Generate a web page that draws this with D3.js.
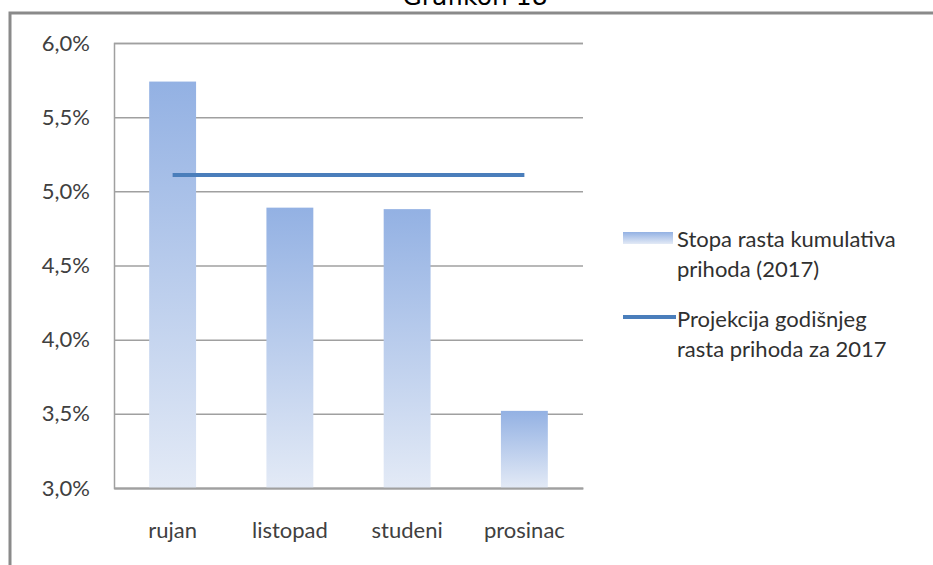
<!DOCTYPE html>
<html><head><meta charset="utf-8">
<script src="https://cdn.jsdelivr.net/npm/d3@7"></script>
<style>body{margin:0;background:#fff}svg{display:block}</style>
</head><body>
<svg id="c" width="933" height="565"></svg>
<script>
const categories = ["rujan","listopad","studeni","prosinac"];
const barValues = [5.74, 4.89, 4.88, 3.52];
const lineValue = 5.11;
const yTicks = [3.0,3.5,4.0,4.5,5.0,5.5,6.0];
const legendBar = ["Stopa rasta kumulativa","prihoda (2017)"];
const legendLine = ["Projekcija godišnjeg","rasta prihoda za 2017"];
const title = "Grafikon 18";

const svg = d3.select("#c");
const m = {left:114, right:583, top:43, bottom:488};
const x = d3.scaleBand().domain(categories).range([m.left, m.right]).paddingInner(0.6).paddingOuter(0.3);
const xc = d3.scaleBand().domain(categories).range([m.left, m.right]);
const y = d3.scaleLinear().domain([3.0, 6.0]).range([m.bottom, m.top]);

const defs = svg.append("defs");
const g = defs.append("linearGradient").attr("id","bg").attr("x1",0).attr("y1",0).attr("x2",0).attr("y2",1);
g.append("stop").attr("offset","0%").attr("stop-color","#93b1e3");
g.append("stop").attr("offset","100%").attr("stop-color","#e3eaf6");

// frame
svg.append("path").attr("d","M10,565 V13 H933").attr("fill","none").attr("stroke","#8a8a8a").attr("stroke-width",3);
// title
svg.append("text").attr("x",475).attr("y",5).attr("text-anchor","middle")
  .attr("font-family","DejaVu Sans, Verdana, sans-serif").attr("font-size",25).attr("fill","#000").text(title);

// gridlines
const yAxis = d3.axisLeft(y).tickValues(yTicks).tickSize(-(m.right-m.left)).tickPadding(24)
  .tickFormat(d => d3.format(".1f")(d).replace(".", ",") + "%");
const ya = svg.append("g").attr("transform",`translate(${m.left},0)`).call(yAxis);
ya.select(".domain").attr("stroke","#a0a0a0").attr("stroke-width",1.5);
ya.selectAll(".tick line").attr("stroke","#a0a0a0").attr("stroke-width",1.5);
ya.selectAll(".tick text").attr("font-family","Lato, sans-serif").attr("font-size",22).attr("fill","#404040");

// bars
svg.selectAll("rect.bar").data(barValues).join("rect").attr("class","bar")
  .attr("x",(d,i)=>x(categories[i])).attr("width",x.bandwidth())
  .attr("y",d=>y(d)).attr("height",d=>y(3.0)-y(d)).attr("fill","url(#bg)");

// bottom axis
const xa = svg.append("g").attr("transform",`translate(0,${m.bottom})`).call(d3.axisBottom(xc).tickSize(0).tickPadding(34));
xa.select(".domain").attr("stroke","#a0a0a0").attr("stroke-width",2);
xa.selectAll(".tick text").attr("font-family","Lato, sans-serif").attr("font-size",22).attr("fill","#404040");

// projection line
const line = d3.line().x(d=>xc(d)+xc.bandwidth()/2).y(()=>y(lineValue));
svg.append("path").datum([categories[0], categories[categories.length-1]]).attr("d",line)
  .attr("fill","none").attr("stroke","#4a7ebb").attr("stroke-width",4);

// legend
const lg = svg.append("g").attr("font-family","Lato, sans-serif").attr("font-size",22).attr("fill","#303030");
lg.append("rect").attr("x",623).attr("y",232).attr("width",50).attr("height",12).attr("fill","url(#bg)");
legendBar.forEach((t,i)=>lg.append("text").attr("x",677).attr("y",247+i*30).text(t));
lg.append("line").attr("x1",623).attr("x2",676).attr("y1",317).attr("y2",317).attr("stroke","#4a7ebb").attr("stroke-width",4);
legendLine.forEach((t,i)=>lg.append("text").attr("x",677).attr("y",327+i*30).text(t));
</script>
</body></html>
